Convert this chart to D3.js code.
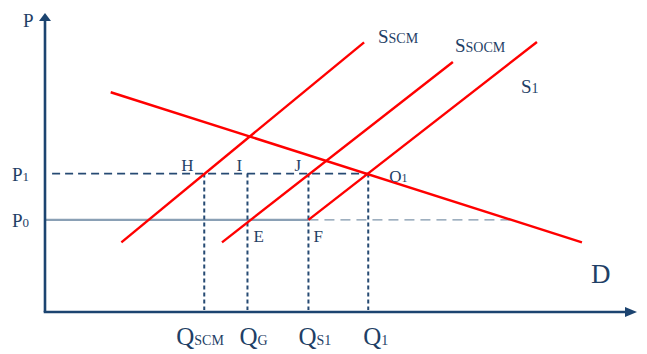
<!DOCTYPE html>
<html>
<head>
<meta charset="utf-8">
<script src="https://cdn.jsdelivr.net/npm/d3@7"></script>
<style>
	body { margin: 0; background: #fff; }
	svg text { font-family: "Liberation Serif", "Times New Roman", serif; fill: #1f3f66; }
</style>
</head>
<body>
<div id="chart"></div>
<script>
// quantities and prices, in abstract chart units (0-100)
const quantities = [
	{ name: "Q", sub: "SCM", q: 26.9 },
	{ name: "Q", sub: "G", q: 34.2 },
	{ name: "Q", sub: "S1", q: 44.5 },
	{ name: "Q", sub: "1", q: 54.6 },
];
const prices = [
	{ name: "P", sub: "1", p: 46.3 },
	{ name: "P", sub: "0", p: 30.8 },
];
// supply and demand curves as [q, p] end points
const supplyCurves = [
	{ name: "S", sub: "SCM", pts: [[12.9, 23.3], [53.9, 90.2]] },
	{ name: "S", sub: "SOCM", pts: [[29.9, 23.3], [68.9, 83.6]] },
	{ name: "S", sub: "1", pts: [[44.5, 30.8], [83.1, 90.3]] },
];
const demandCurve = { name: "D", pts: [[11.1, 73.5], [90.7, 23.3]] };
const p0End = 78.8;

const size = { w: 647, h: 354 };
const svg = d3
	.select("#chart")
	.append("svg")
	.attr("width", size.w)
	.attr("height", size.h);

const x = d3.scaleLinear().domain([0, 100]).range([45, 637]);
const y = d3.scaleLinear().domain([0, 100]).range([312, 13]);
const line = d3.line().x((d) => x(d[0])).y((d) => y(d[1]));

const navy = "#1c4470";
const P1 = prices[0].p;
const P0 = prices[1].p;

// P0 line: solid to F, dashed after
svg.append("line")
	.attr("x1", x(0)).attr("x2", x(quantities[2].q))
	.attr("y1", y(P0)).attr("y2", y(P0))
	.attr("stroke", "#8aa0b5").attr("stroke-width", 2.2);
svg.append("line")
	.attr("x1", x(quantities[2].q)).attr("x2", x(p0End))
	.attr("y1", y(P0)).attr("y2", y(P0))
	.attr("stroke", "#7f95ab").attr("stroke-width", 1.3)
	.attr("stroke-dasharray", "10,6");

// P1 dashed line
svg.append("line")
	.attr("x1", x(1.2)).attr("x2", x(quantities[3].q))
	.attr("y1", y(P1)).attr("y2", y(P1))
	.attr("stroke", "#264a73").attr("stroke-width", 1.7)
	.attr("stroke-dasharray", "8,5");

// vertical dotted lines
svg.selectAll(".qline")
	.data(quantities)
	.join("line")
	.attr("class", "qline")
	.attr("x1", (d) => x(d.q)).attr("x2", (d) => x(d.q))
	.attr("y1", y(P1)).attr("y2", y(0) - 2)
	.attr("stroke", "#264a73").attr("stroke-width", 2)
	.attr("stroke-dasharray", "4,3");

// curves
supplyCurves.concat([demandCurve]).forEach((c) => {
	svg.append("path")
		.attr("d", line(c.pts))
		.attr("fill", "none")
		.attr("stroke", "#ff0000")
		.attr("stroke-width", 2.4);
});

// axes
svg.append("line")
	.attr("x1", x(0)).attr("x2", x(0))
	.attr("y1", y(0)).attr("y2", y(100) + 6)
	.attr("stroke", navy).attr("stroke-width", 2.6);
svg.append("line")
	.attr("x1", x(0) - 1.3).attr("x2", x(100) - 8)
	.attr("y1", y(0)).attr("y2", y(0))
	.attr("stroke", navy).attr("stroke-width", 2.6);
svg.append("path")
	.attr("d", `M${x(0)},${y(100)} L${x(0) - 6},${y(100) + 8} L${x(0) + 6},${y(100) + 8} Z`)
	.attr("fill", navy);
svg.append("path")
	.attr("d", `M${x(100)},${y(0)} L${x(100) - 12},${y(0) - 5} L${x(100) - 12},${y(0) + 5} Z`)
	.attr("fill", navy);

// label helper: big letter + small-caps subscript on same baseline
function label(px, py, big, sub, bigSize, subSize) {
	const t = svg.append("text").attr("x", px).attr("y", py);
	t.append("tspan").attr("font-size", bigSize).text(big);
	if (sub) t.append("tspan").attr("font-size", subSize).text(sub);
	return t;
}

label(23, 27, "P", null, 19);
prices.forEach((d) => label(12, y(d.p) + 7, d.name, d.sub, 19, 13));

const qOffsets = [-28, -8, -10, -5];
quantities.forEach((d, i) =>
	label(x(d.q) + qOffsets[i], 345, d.name, d.sub, 25, 14)
);

label(378, 43, "S", "SCM", 19, 14);
label(455, 52, "S", "SOCM", 19, 14);
label(521, 93, "S", "1", 19, 14);
label(591, 283, "D", null, 27);

// point labels
label(x(quantities[0].q) - 23, y(P1) - 3, "H", null, 17);
label(x(quantities[1].q) - 11, y(P1) - 3, "I", null, 17);
label(x(quantities[2].q) - 14, y(P1) - 3, "J", null, 17);
label(x(quantities[1].q) + 6, y(P0) + 22, "E", null, 17);
label(x(quantities[2].q) + 5, y(P0) + 22, "F", null, 17);
label(x(quantities[3].q) + 21, y(P1) + 8, "O", "1", 17, 12);
</script>
</body>
</html>
